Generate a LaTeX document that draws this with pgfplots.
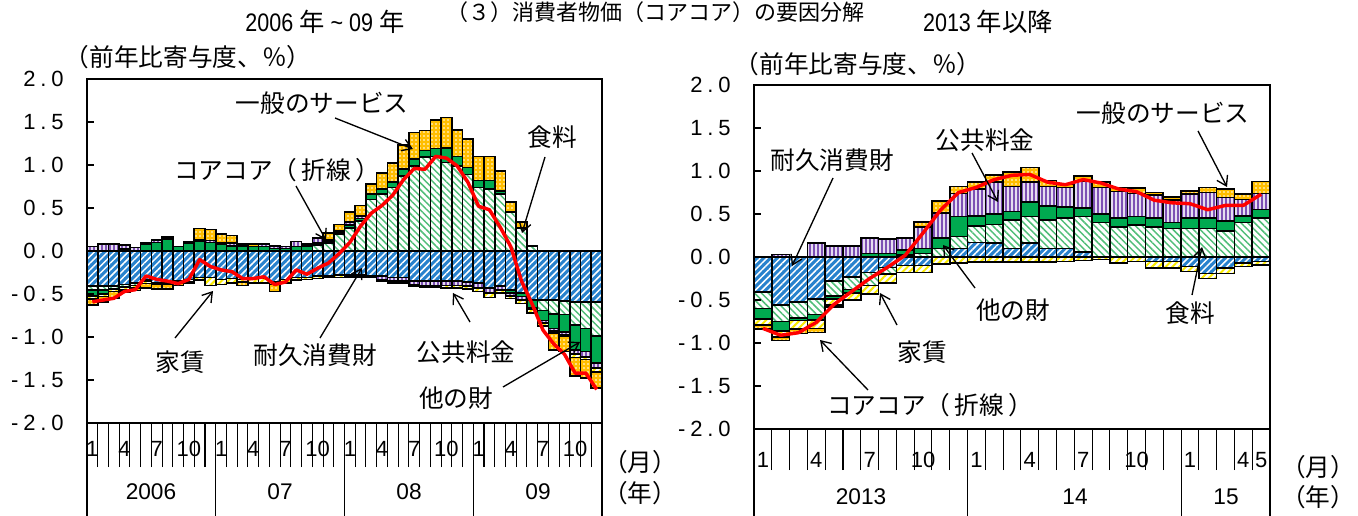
\documentclass[border=0pt]{standalone}
\usepackage{fontspec}
\setmainfont{Liberation Sans}
\newfontfamily\jp{Noto Sans CJK JP}
\newfontfamily\tk[LetterSpace=22]{Liberation Sans}
\newfontfamily\nar[FakeStretch=0.85]{Liberation Sans}
\usepackage{pgfplots}
\pgfplotsset{compat=1.18}
\usepackage{pgfplotstable}
\usetikzlibrary{patterns.meta,arrows.meta}

\definecolor{cD}{RGB}{40,130,205}
\definecolor{cF}{RGB}{80,190,120}
\definecolor{cO}{RGB}{0,170,80}
\definecolor{cP}{RGB}{125,80,180}
\definecolor{cR}{RGB}{250,235,0}
\definecolor{cS}{RGB}{255,190,0}

% m = month index, D = durable goods, F = food, O = other goods,
% P = public utilities, R = rent, S = general services, L = core-core (line)
\pgfplotstableread{
m D F O P R S L
1 -0.41 -0.04 -0.07 0.05 -0.04 -0.07 -0.59
2 -0.41 -0.04 -0.05 0.08 -0.03 -0.06 -0.57
3 -0.41 -0.03 0.00 0.08 -0.03 -0.08 -0.55
4 -0.39 -0.03 0.02 0.05 -0.03 -0.03 -0.47
5 -0.37 -0.03 0.00 0.04 -0.03 -0.03 -0.45
6 -0.33 -0.02 0.08 0.02 -0.03 -0.05 -0.29
7 -0.37 0.00 0.10 0.03 -0.02 -0.05 -0.33
8 -0.37 0.00 0.14 0.02 -0.02 -0.05 -0.35
9 -0.35 0.00 0.05 0.00 -0.03 -0.02 -0.38
10 -0.33 0.00 0.09 0.02 -0.03 -0.02 -0.33
11 -0.31 0.00 0.11 0.02 -0.03 0.13 -0.10
12 -0.31 0.00 0.10 0.02 -0.09 0.13 -0.18
13 -0.33 0.00 0.08 0.02 -0.06 0.10 -0.22
14 -0.32 0.00 0.06 0.03 -0.05 0.09 -0.24
15 -0.33 0.00 0.06 0.02 -0.03 -0.04 -0.32
16 -0.32 0.00 0.05 0.00 -0.05 0.03 -0.32
17 -0.32 0.00 0.05 0.03 -0.05 0.00 -0.30
18 -0.36 0.00 0.03 0.03 -0.03 -0.08 -0.39
19 -0.33 0.00 0.03 0.02 -0.04 0.00 -0.36
20 -0.31 0.00 0.05 0.06 -0.03 0.00 -0.22
21 -0.31 0.00 0.06 0.02 -0.02 0.00 -0.27
22 -0.29 0.07 0.02 0.06 -0.03 0.00 -0.20
23 -0.29 0.09 0.02 0.02 -0.02 0.08 -0.14
24 -0.28 0.20 0.02 0.02 -0.03 0.07 -0.03
25 -0.28 0.27 0.03 0.04 -0.02 0.11 0.10
26 -0.28 0.35 0.03 0.03 -0.02 0.12 0.29
27 -0.29 0.60 0.06 0.00 -0.02 0.12 0.44
28 -0.29 0.66 0.06 -0.04 -0.02 0.19 0.53
29 -0.31 0.74 0.06 -0.04 -0.02 0.22 0.65
30 -0.31 0.87 0.08 -0.04 -0.02 0.28 0.83
31 -0.35 0.99 0.08 -0.04 -0.02 0.31 0.96
32 -0.35 1.09 0.08 -0.05 -0.02 0.23 0.95
33 -0.35 1.10 0.09 -0.05 -0.02 0.33 1.10
34 -0.35 1.03 0.17 -0.05 -0.03 0.35 1.08
35 -0.35 0.99 0.11 -0.05 -0.03 0.31 0.99
36 -0.36 0.89 0.08 -0.05 -0.03 0.33 0.80
37 -0.37 0.74 0.08 -0.06 -0.04 0.28 0.52
38 -0.43 0.72 0.10 -0.06 -0.05 0.28 0.48
39 -0.41 0.66 0.04 -0.04 -0.04 0.23 0.28
40 -0.45 0.45 -0.04 -0.03 -0.03 0.12 0.05
41 -0.49 0.27 -0.04 -0.04 -0.04 0.07 -0.35
42 -0.57 0.06 -0.09 -0.02 -0.04 0.00 -0.62
43 -0.57 -0.12 -0.12 -0.03 -0.03 0.00 -0.92
44 -0.57 -0.16 -0.17 -0.03 -0.02 -0.20 -1.08
45 -0.58 -0.16 -0.20 -0.03 -0.02 -0.18 -1.20
46 -0.59 -0.27 -0.29 -0.05 -0.04 -0.21 -1.42
47 -0.59 -0.31 -0.27 -0.06 -0.03 -0.22 -1.42
48 -0.59 -0.40 -0.31 -0.06 -0.05 -0.18 -1.61
}\ldata

\pgfplotstableread{
m D F O P R S L
1 -0.41 -0.19 -0.12 0.00 -0.07 -0.05 -0.83
2 -0.56 -0.19 -0.11 0.03 -0.07 -0.04 -0.91
3 -0.52 -0.19 -0.03 0.00 -0.10 -0.05 -0.88
4 -0.49 -0.18 -0.06 0.16 -0.10 -0.05 -0.76
5 -0.28 -0.17 -0.04 0.13 -0.07 -0.02 -0.55
6 -0.23 -0.15 -0.04 0.13 -0.08 0.00 -0.40
7 -0.18 -0.15 0.04 0.18 -0.10 0.00 -0.25
8 -0.12 -0.08 0.04 0.17 -0.10 0.00 -0.12
9 -0.10 0.02 0.06 0.14 -0.08 0.00 0.02
10 -0.10 0.04 0.06 0.25 -0.08 0.06 0.28
11 0.00 0.10 0.12 0.29 -0.08 0.14 0.55
12 0.10 0.14 0.23 0.27 -0.07 0.08 0.75
13 0.17 0.19 0.12 0.31 -0.06 0.08 0.81
14 0.16 0.22 0.12 0.37 -0.06 0.08 0.90
15 0.10 0.33 0.10 0.29 -0.06 0.17 0.95
16 0.16 0.31 0.17 0.23 -0.06 0.17 0.96
17 0.10 0.33 0.16 0.23 -0.06 0.07 0.87
18 0.10 0.35 0.13 0.23 -0.05 0.04 0.84
19 0.06 0.41 0.10 0.31 -0.04 0.06 0.90
20 0.00 0.40 0.10 0.31 -0.03 0.06 0.86
21 0.00 0.35 0.10 0.31 -0.07 0.05 0.79
22 0.00 0.37 0.10 0.27 -0.05 0.06 0.76
23 -0.05 0.35 0.10 0.27 -0.08 0.03 0.66
24 -0.05 0.33 0.07 0.26 -0.08 0.04 0.63
25 -0.11 0.33 0.12 0.28 -0.06 0.04 0.62
26 -0.19 0.33 0.12 0.30 -0.06 0.06 0.55
27 -0.13 0.30 0.12 0.27 -0.06 0.10 0.60
28 -0.07 0.40 0.08 0.19 -0.04 0.06 0.60
29 -0.05 0.45 0.10 0.19 -0.04 0.14 0.73
}\rdata

\pgfplotsset{
  bD/.style={draw=black,line width=1.2pt,preaction={fill=cD},pattern={Lines[angle=45,distance=3.6pt,line width=1.1pt]},pattern color=white},
  bF/.style={draw=black,line width=1.2pt,preaction={fill=white},pattern={Lines[angle=-45,distance=3.6pt,line width=1.1pt]},pattern color=cF},
  bO/.style={draw=black,line width=1.2pt,fill=cO},
  bP/.style={draw=black,line width=1.2pt,preaction={fill=cP},pattern={Lines[angle=90,distance=3pt,line width=0.9pt]},pattern color=white!80!cP},
  bR/.style={draw=black,line width=1.2pt,preaction={fill=white},pattern={Lines[angle=45,distance=3.6pt,line width=1.5pt]},pattern color=cR},
  bS/.style={draw=black,line width=1.2pt,preaction={fill=cS},pattern={Dots[distance=3pt,radius=0.6pt]},pattern color=white},
  common/.style={scale only axis, height=258pt, ymin=-2, ymax=2, anchor=south west},
}

\newcommand{\negbars}[1]{%
  \addplot[bD] table[x=m,y expr={min(\thisrow{D},0)}]{#1};
  \addplot[bF] table[x=m,y expr={min(\thisrow{F},0)}]{#1};
  \addplot[bO] table[x=m,y expr={min(\thisrow{O},0)}]{#1};
  \addplot[bP] table[x=m,y expr={min(\thisrow{P},0)}]{#1};
  \addplot[bR] table[x=m,y expr={min(\thisrow{R},0)}]{#1};
  \addplot[bS] table[x=m,y expr={min(\thisrow{S},0)}]{#1};
}
\newcommand{\posbars}[1]{%
  \addplot[bD] table[x=m,y expr={max(\thisrow{D},0)}]{#1};
  \addplot[bF] table[x=m,y expr={max(\thisrow{F},0)}]{#1};
  \addplot[bO] table[x=m,y expr={max(\thisrow{O},0)}]{#1};
  \addplot[bP] table[x=m,y expr={max(\thisrow{P},0)}]{#1};
  \addplot[bR] table[x=m,y expr={max(\thisrow{R},0)}]{#1};
  \addplot[bS] table[x=m,y expr={max(\thisrow{S},0)}]{#1};
}

\begin{document}
\begin{tikzpicture}
\useasboundingbox (0,0) rectangle (1018.5pt,-387pt);

% ---------------- LEFT PANEL ----------------
\begin{axis}[common, at={(65.25pt,-317.25pt)}, width=386.25pt,
  xmin=0.5, xmax=48.5, ybar stacked, bar width=1,
  hide y axis, axis line style={line width=1.6pt},
  xtick={0.5,12.5,24.5,36.5,48.5}, xticklabels={},
  minor xtick={1.5,2.5,...,47.5},
  xtick pos=left, tick align=outside,
  major tick length=69.75pt, minor tick length=33pt,
  tick style={black,line width=0.8pt},
  extra x ticks={1,4,7,10,13,16,19,22,25,28,31,34,37,40,43,46},
  extra x tick labels={1,4,7,10,1,4,7,10,1,4,7,10,1,4,7,10},
  extra x tick style={major tick length=0pt, tick label style={font=\fontsize{16.5pt}{17pt}\selectfont, anchor=center, yshift=-19.5pt}},
]
\negbars{\ldata}
\end{axis}
\begin{axis}[common, at={(65.25pt,-317.25pt)}, width=386.25pt,
  xmin=0.5, xmax=48.5, ybar stacked, bar width=1, hide axis]
\posbars{\ldata}
\end{axis}
\begin{axis}[common, at={(65.25pt,-317.25pt)}, width=386.25pt,
  xmin=0.5, xmax=48.5, axis on top, axis line style={line width=1.8pt},
  xtick=\empty, ytick={-2,-1.5,-1,-0.5,0,0.5,1,1.5,2},
  yticklabels={-2.0,-1.5,-1.0,-0.5,0.0,0.5,1.0,1.5,2.0},
  ytick pos=left, tick align=inside, major tick length=5pt, tick style={black,line width=1pt},
  yticklabel style={font=\tk\fontsize{16.5pt}{17pt}\selectfont, anchor=east, xshift=-14pt},
]
\addplot[red, line width=2.6pt, line join=round] table[x=m,y=L]{\ldata};
\end{axis}

% ---------------- RIGHT PANEL ----------------
\begin{axis}[common, at={(565.5pt,-321.75pt)}, width=387pt,
  xmin=0.5, xmax=29.5, ybar stacked, bar width=1,
  hide y axis, axis line style={line width=1.6pt},
  xtick={0.5,12.5,24.5,29.5}, xticklabels={},
  minor xtick={1.5,2.5,...,28.5},
  xtick pos=left, tick align=outside,
  major tick length=65.25pt, minor tick length=30.75pt,
  tick style={black,line width=0.8pt},
  extra x ticks={1,4,7,10,13,16,19,22,25,28,29},
  extra x tick labels={1,4,7,10,1,4,7,10,1,4,5},
  extra x tick style={major tick length=0pt, tick label style={font=\fontsize{16.5pt}{17pt}\selectfont, anchor=center, yshift=-23.5pt}},
]
\negbars{\rdata}
\end{axis}
\begin{axis}[common, at={(565.5pt,-321.75pt)}, width=387pt,
  xmin=0.5, xmax=29.5, ybar stacked, bar width=1, hide axis]
\posbars{\rdata}
\end{axis}
\begin{axis}[common, at={(565.5pt,-321.75pt)}, width=387pt,
  xmin=0.5, xmax=29.5, axis on top, axis line style={line width=1.8pt},
  xtick=\empty, ytick={-2,-1.5,-1,-0.5,0,0.5,1,1.5,2},
  yticklabels={-2.0,-1.5,-1.0,-0.5,0.0,0.5,1.0,1.5,2.0},
  ytick pos=left, tick align=inside, major tick length=5pt, tick style={black,line width=1pt},
  yticklabel style={font=\tk\fontsize{16.5pt}{17pt}\selectfont, anchor=east, xshift=-14pt},
]
\addplot[red, line width=2.6pt, line join=round] table[x=m,y=L]{\rdata};
\end{axis}

% ---------------- TEXTS ----------------
\begin{scope}[x=0.75pt,y=-0.75pt,
  lab/.style={font=\jp\fontsize{18.5pt}{20pt}\selectfont, inner sep=0pt},
  arr/.style={black, line width=1pt, -{Straight Barb[length=7pt,width=9pt,line width=1pt]}}]
\node[font=\jp\fontsize{16.5pt}{18pt}\selectfont, anchor=north, inner sep=0pt] at (655,1) {（３）消費者物価（コアコア）の要因分解};
\node[font=\fontsize{19pt}{20pt}\selectfont] at (325,22) {{\nar 2006 }{\jp 年}{\nar\ {\textasciitilde}\ 09 }{\jp 年}};
\node[font=\fontsize{19pt}{20pt}\selectfont] at (988,22) {{\nar 2013 }{\jp 年以降}};
\node[lab] at (188,57) {（前年比寄与度、％）};
\node[lab] at (858,64) {（前年比寄与度、％）};
\node[lab] at (640,462) {（月）};
\node[lab] at (640,493) {（年）};
\node[lab] at (1318,467) {（月）};
\node[lab] at (1318,497) {（年）};
\begin{scope}[every node/.style={font=\fontsize{17pt}{18pt}\selectfont}]
\node at (151,492) {2006};
\node at (280,492) {07};
\node at (409,492) {08};
\node at (538,492) {09};
\node at (861,497) {2013};
\node at (1075,497) {14};
\node at (1226,497) {15};
\end{scope}
% left annotations
\node[lab] at (322,103) {一般のサービス};
\draw[arr] (335,118) -- (413,149);
\node[lab] at (277,170) {コアコア（\,折線\,）};
\draw[arr] (296,186) -- (326,240);
\node[lab] at (552,137) {食料};
\draw[arr] (545,157) -- (522,233);
\node[lab] at (180,362) {家賃};
\draw[arr] (175,338) -- (213,291);
\node[lab] at (315,355) {耐久消費財};
\draw[arr] (320,338) -- (362,268);
\node[lab] at (466,352) {公共料金};
\draw[arr] (470,322) -- (453,293);
\node[lab] at (456,398) {他の財};
\draw[arr] (503,387) -- (580,342);
% right annotations
\node[lab] at (1163,113) {一般のサービス};
\draw[arr] (1198,131) -- (1227,187);
\node[lab] at (985,140) {公共料金};
\draw[arr] (972,153) -- (998,202);
\node[lab] at (832,160) {耐久消費財};
\draw[arr] (833,178) -- (792,266);
\node[lab] at (1013,310) {他の財};
\draw[arr] (975,288) -- (943,245);
\node[lab] at (1190,313) {食料};
\draw[arr] (1192,295) -- (1202,247);
\node[lab] at (922,352) {家賃};
\draw[arr] (897,325) -- (880,293);
\node[lab] at (930,405) {コアコア（\,折線\,）};
\draw[arr] (868,390) -- (820,340);
\end{scope}
\end{tikzpicture}
\end{document}
